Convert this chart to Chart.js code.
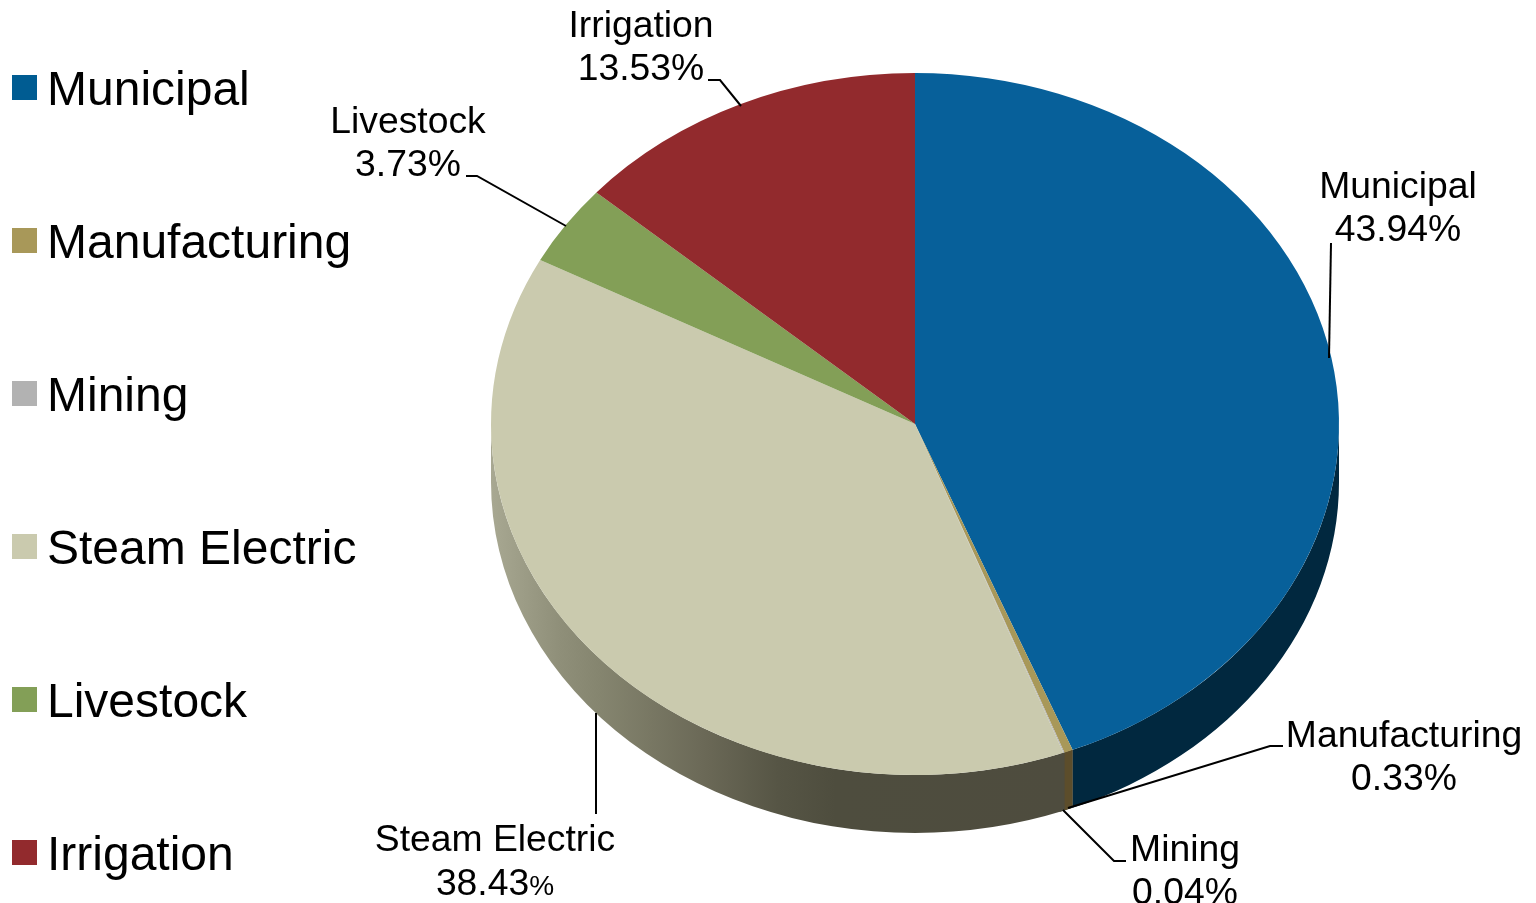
<!DOCTYPE html>
<html lang="en">
<head>
    <meta charset="UTF-8">
    <title>Water Use by Category</title>
    <script src="https://cdnjs.cloudflare.com/ajax/libs/Chart.js/4.4.1/chart.umd.min.js"></script>
    <style>
        * {
            padding: 0;
            margin: 0;
            box-sizing: border-box;
            font-family: "Liberation Sans", Arial, sans-serif;
        }

        body {
            width: 1536px;
            height: 903px;
            overflow: hidden;
            background: #ffffff;
            position: relative;
            color: #000000;
        }

        #pie {
            position: absolute;
            left: 0;
            top: 0;
        }

        .legend-item {
            position: absolute;
            left: 47px;
            font-size: 48px;
            line-height: 56px;
            white-space: nowrap;
        }

        .legend-item i {
            position: absolute;
            left: -35px;
            top: 14px;
            width: 25px;
            height: 25px;
        }

        .data-label {
            position: absolute;
            font-size: 37.3px;
            line-height: 43px;
            text-align: center;
            white-space: nowrap;
            transform: translateX(-50%);
        }

        .data-label small {
            font-size: 28px;
        }
    </style>
</head>
<body>
    <canvas id="pie" width="1536" height="903"></canvas>
    <div id="legend"></div>
    <div id="labels"></div>
    <script>
        const categories = ["Municipal", "Manufacturing", "Mining", "Steam Electric", "Livestock", "Irrigation"];
        const shares = [43.94, 0.33, 0.04, 38.43, 3.73, 13.53];
        const sliceColors = ["#07609a", "#a89859", "#b2b2b2", "#cacaae", "#839f57", "#922a2d"];
        const swatchColors = ["#005c92", "#a89859", "#b2b2b2", "#cacaae", "#839f57", "#922a2d"];

        // side wall of the 3d look
        const wallColors = ["#01283f", "#5c4d2b", "#4f4d3e", null, "#5a6b3a", "#5e1b1d"];
        const steamWallStops = [[0, "#a8a892"], [0.12, "#8f8f79"], [0.19, "#85856f"], [0.37, "#6b6957"], [0.5, "#565545"], [0.6, "#4e4d3e"], [1, "#4e4c3e"]];

        const squash = 351 / 424;
        const depth = 58;

        // label centre x, top y of the box
        const labelX = [1398, 1404, 1185, 495, 408, 641];
        const labelTop = [164, 713, 827, 816, 99, 3];

        // leader lines, from label to pie edge
        const leaders = [
            [[1331, 243], [1329, 358]],
            [[1283, 746], [1270, 746], [1068, 808]],
            [[1126, 861], [1114, 861], [1063, 810]],
            [[596, 814], [596, 713]],
            [[466, 176], [477, 176], [566, 226]],
            [[708, 80], [720, 80], [741, 106]],
        ];

        const legendBox = document.getElementById("legend");
        categories.forEach((name, i) => {
            const item = document.createElement("div");
            item.className = "legend-item";
            item.style.top = (61 + i * 153) + "px";
            item.innerHTML = `<i style="background:${swatchColors[i]}"></i>${name}`;
            legendBox.appendChild(item);
        });

        const labelBox = document.getElementById("labels");
        categories.forEach((name, i) => {
            const label = document.createElement("div");
            label.className = "data-label";
            label.style.left = labelX[i] + "px";
            label.style.top = labelTop[i] + "px";
            const pct = shares[i].toFixed(2);
            // the steam electric percent sign is smaller in the original
            if (name === "Steam Electric") {
                label.style.lineHeight = "44px";
                label.innerHTML = name + "<br>" + pct + "<small>%</small>";
            } else {
                label.innerHTML = name + "<br>" + pct + "%";
            }
            labelBox.appendChild(label);
        });

        const tiltPlugin = {
            id: "tilt",
            beforeDatasetsDraw(chart) {
                const ctx = chart.ctx;
                const arcs = chart.getDatasetMeta(0).data;
                const cx = arcs[0].x;
                const cy = arcs[0].y;
                const rx = arcs[0].outerRadius;
                const ry = rx * squash;

                // dark backing so the slice seams do not show through
                const seamStart = arcs[0].endAngle;
                const seamEnd = arcs[3].startAngle + 0.01;
                ctx.beginPath();
                ctx.ellipse(cx, cy, rx, ry, 0, seamStart, seamEnd);
                ctx.ellipse(cx, cy + depth, rx, ry, 0, seamEnd, seamStart, true);
                ctx.closePath();
                ctx.fillStyle = wallColors[2];
                ctx.fill();

                arcs.forEach((arc, i) => {
                    const a0 = Math.max(arc.startAngle, 0);
                    const a1 = Math.min(arc.endAngle, Math.PI);
                    if (a1 <= a0) return;
                    let fill = wallColors[i];
                    if (!fill) {
                        fill = ctx.createLinearGradient(cx - rx, 0, cx + 150, 0);
                        steamWallStops.forEach((s) => fill.addColorStop(s[0], s[1]));
                    }
                    ctx.beginPath();
                    ctx.ellipse(cx, cy, rx, ry, 0, a0, a1);
                    ctx.ellipse(cx, cy + depth, rx, ry, 0, a1, a0, true);
                    ctx.closePath();
                    ctx.fillStyle = fill;
                    ctx.fill();
                });

                ctx.save();
                ctx.translate(cx, cy);
                ctx.scale(1, squash);
                ctx.translate(-cx, -cy);
            },
            afterDatasetsDraw(chart) {
                chart.ctx.restore();
            },
            afterDraw(chart) {
                const ctx = chart.ctx;
                ctx.save();
                ctx.strokeStyle = "#000000";
                ctx.lineWidth = 2;
                leaders.forEach((pts) => {
                    ctx.beginPath();
                    pts.forEach((p, i) => (i ? ctx.lineTo(p[0], p[1]) : ctx.moveTo(p[0], p[1])));
                    ctx.stroke();
                });
                ctx.restore();
            },
        };

        new Chart(document.getElementById("pie"), {
            type: "pie",
            plugins: [tiltPlugin],
            data: {
                labels: categories,
                datasets: [{
                    data: shares,
                    backgroundColor: sliceColors,
                    borderWidth: 0,
                    clip: false,
                }],
            },
            options: {
                responsive: false,
                animation: false,
                layout: { padding: { left: 491, right: 197, top: 0, bottom: 55 } },
                plugins: {
                    legend: { display: false },
                    tooltip: { enabled: false },
                },
            },
        });
    </script>
</body>
</html>
